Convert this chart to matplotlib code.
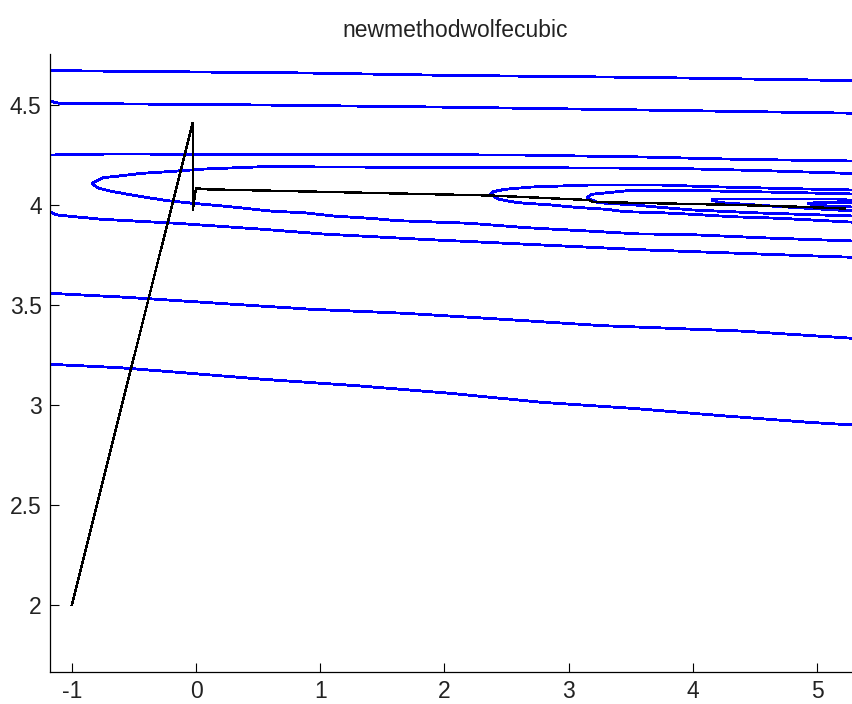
import matplotlib
matplotlib.use("Agg")
import matplotlib.pyplot as plt

plt.rcParams['font.family'] = ['Liberation Sans', 'DejaVu Sans']

TITLE = "newmethodwolfecubic"
X_TICKS = [-1, 0, 1, 2, 3, 4, 5]
Y_TICKS = [2, 2.5, 3, 3.5, 4, 4.5]
X_LIMITS = (-1.1755, 5.346)
Y_LIMITS = (1.665, 4.755)

# Open level curves (they close far to the left of the view)
level_top_x = [-1.18, 0.9, 2.05, 3.6, 5.29]
level_top_y = [4.672, 4.66, 4.648, 4.638, 4.622]
level_upper_x = [-1.18, -1.1, 0.54, 2.05, 3.6, 5.29]
level_upper_y = [4.52, 4.508, 4.50, 4.489, 4.475, 4.459]
level_mid_x = [-1.18, -0.7, 2.6, 3.6, 4.4, 5.29]
level_mid_y = [4.25, 4.255, 4.25, 4.24, 4.228, 4.22]
level_low_x = [-1.176, -1.119, -0.757, -0.153, 0.539, 1.023, 1.82, 3.639, 4.756, 5.29]
level_low_y = [3.9665, 3.95, 3.9285, 3.9085, 3.8785, 3.855, 3.8285, 3.775, 3.75, 3.7385]
level_lower_x = [-1.1755, -0.558, 0.18, 0.932, 1.683, 2.472, 3.277, 4.38, 5.29]
level_lower_y = [3.5585, 3.5385, 3.5085, 3.4785, 3.4585, 3.4285, 3.3965, 3.37, 3.3335]
level_bottom_x = [-1.1755, -0.612, -0.048, 0.542, 1.294, 2.045, 2.783, 3.508, 4.233, 4.93, 5.29]
level_bottom_y = [3.2035, 3.1865, 3.1585, 3.1285, 3.0965, 3.0585, 3.0135, 2.9835, 2.9465, 2.9135, 2.9]

# Level curves that close inside the view: (tip, upper branch, lower branch)
ring0_tip = (-0.84, 4.1085)
ring0_upper_x = [-0.749, -0.598, -0.437, -0.225, 0.072, 0.539, 3.816, 4.581, 5.29]
ring0_upper_y = [4.1365, 4.1465, 4.1585, 4.1665, 4.18, 4.1915, 4.1835, 4.1715, 4.1575]
ring0_lower_x = [-0.789, -0.668, -0.515, -0.370, -0.209, -0.024, 0.274, 0.596, 0.894,
                 1.103, 1.401, 1.626, 2.206, 2.663, 3.253, 3.575, 3.921, 4.6, 5.29]
ring0_lower_y = [4.085, 4.0665, 4.05, 4.035, 4.02, 4.0085, 3.9915, 3.97, 3.96,
                 3.945, 3.9335, 3.9215, 3.9085, 3.8865, 3.8665, 3.855, 3.8535, 3.835, 3.82]

ring1_tip = (2.373, 4.0535)
ring1_upper_x = [2.391, 2.488, 2.703, 3.172, 3.736, 4.138, 4.917, 5.29]
ring1_upper_y = [4.0665, 4.0785, 4.09, 4.1, 4.1, 4.0915, 4.08, 4.075]
ring1_lower_x = [2.432, 2.502, 2.593, 2.864, 3.052, 3.307, 3.454, 3.736, 4.002, 4.313, 4.702, 5.169, 5.29]
ring1_lower_y = [4.03, 4.0215, 4.0115, 4.0, 3.9885, 3.9785, 3.9665, 3.9615, 3.9535, 3.9415, 3.9335, 3.918, 3.914]

ring2_tip = (3.146, 4.0365)
ring2_upper_x = [3.186, 3.478, 4.058, 4.716, 5.29]
ring2_upper_y = [4.0535, 4.0715, 4.0715, 4.0635, 4.055]
ring2_lower_x = [3.237, 3.535, 3.736, 4.002, 4.541, 5.29]
ring2_lower_y = [4.0115, 4.0, 3.9885, 3.975, 3.96, 3.945]

ring3_tip = (4.152, 4.025)
ring3_upper_x = [4.179, 5.16, 5.29]
ring3_upper_y = [4.03, 4.03, 4.022]
ring3_lower_x = [4.219, 4.702, 5.29]
ring3_lower_y = [4.012, 3.992, 3.97]

ring4_tip = (4.928, 4.0085)
ring4_upper_x = [5.0, 5.29]
ring4_upper_y = [4.012, 4.012]
ring4_lower_x = [4.98, 5.29]
ring4_lower_y = [3.998, 3.99]

# Iterates of the line-search method
iter_x = [-1.0, -0.0266, -0.0266, 0.0, 0.086, 2.367, 3.16, 3.2, 4.3, 4.863, 5.225]
iter_y = [2.0, 4.4115, 3.975, 4.0835, 4.0785, 4.0475, 4.025, 4.015, 4.001, 3.991, 3.9825]

open_levels = [
    (level_top_x, level_top_y),
    (level_upper_x, level_upper_y),
    (level_mid_x, level_mid_y),
    (level_low_x, level_low_y),
    (level_lower_x, level_lower_y),
    (level_bottom_x, level_bottom_y),
]
closed_levels = [
    (ring0_tip, ring0_upper_x, ring0_upper_y, ring0_lower_x, ring0_lower_y),
    (ring1_tip, ring1_upper_x, ring1_upper_y, ring1_lower_x, ring1_lower_y),
    (ring2_tip, ring2_upper_x, ring2_upper_y, ring2_lower_x, ring2_lower_y),
    (ring3_tip, ring3_upper_x, ring3_upper_y, ring3_lower_x, ring3_lower_y),
    (ring4_tip, ring4_upper_x, ring4_upper_y, ring4_lower_x, ring4_lower_y),
]

W, H = 853, 704
fig = plt.figure(figsize=(W / 100, H / 100), dpi=100)
ax = fig.add_axes([50 / W, 32 / H, 810 / W, 618 / H])

line_kw = dict(color='#0000ff', lw=1.3, antialiased=False, solid_joinstyle='miter')
for xs, ys in open_levels:
    ax.plot(xs, ys, **line_kw)
for tip, ux, uy, lx, ly in closed_levels:
    xs = lx[::-1] + [tip[0]] + ux
    ys = ly[::-1] + [tip[1]] + uy
    ax.plot(xs, ys, **line_kw)

ax.plot(iter_x, iter_y, color='black', lw=1.0, antialiased=False)

ax.set_xlim(*X_LIMITS)
ax.set_ylim(*Y_LIMITS)
ax.set_xticks(X_TICKS)
ax.set_yticks(Y_TICKS)
ax.set_xticklabels([f"{v:g}" for v in X_TICKS])
ax.set_yticklabels([f"{v:g}" for v in Y_TICKS])
ax.tick_params(direction='in', length=6.5, width=0.8, labelsize=16.5, pad=6, colors='black')
ax.tick_params(axis='x', labelcolor='#222222')
ax.tick_params(axis='y', labelcolor='#222222')
ax.spines['top'].set_visible(False)
ax.spines['right'].set_visible(False)
ax.spines['left'].set_linewidth(0.9)
ax.spines['bottom'].set_linewidth(0.9)
ax.set_title(TITLE, fontsize=16.5, pad=12, color='#222222')

fig.savefig("out.png", dpi=100)
